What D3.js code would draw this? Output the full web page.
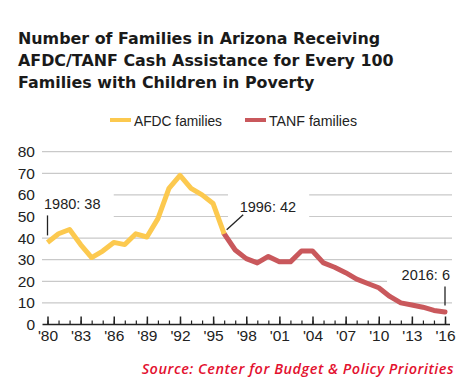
<!DOCTYPE html>
<html>
<head>
<meta charset="utf-8">
<script src="https://cdn.jsdelivr.net/npm/d3@7"></script>
<style>
  body { margin: 0; background: #fff; }
  svg { display: block; }
</style>
</head>
<body>
<svg id="chart"></svg>
<script>
const titleLines = [
    "Number of Families in Arizona Receiving",
    "AFDC/TANF Cash Assistance for Every 100",
    "Families with Children in Poverty"
];
const sourceText = "Source: Center for Budget & Policy Priorities";

const afdcYears = [1980, 1981, 1982, 1983, 1984, 1985, 1986, 1987, 1988, 1989, 1990, 1991, 1992, 1993, 1994, 1995, 1996];
const afdcValues = [38, 42, 44, 37, 31, 34, 38, 37, 42, 40.5, 49, 63, 69, 63, 60, 56, 42];

const tanfYears = [1996, 1997, 1998, 1999, 2000, 2001, 2002, 2003, 2004, 2005, 2006, 2007, 2008, 2009, 2010, 2011, 2012, 2013, 2014, 2015, 2016];
const tanfValues = [42, 34.5, 30.5, 28.5, 31.5, 29, 29, 34, 34, 28.5, 26.5, 24, 21, 19, 17, 13, 10, 9, 8, 6.5, 5.8];

const yTicks = [0, 10, 20, 30, 40, 50, 60, 70, 80];
const majorYears = [1980, 1983, 1986, 1989, 1992, 1995, 1998, 2001, 2004, 2007, 2010, 2013, 2016];
const tickLabels = ["'80", "'83", "'86", "'89", "'92", "'95", "'98", "'01", "'04", "'07", "'10", "'13", "'16"];

const series = [
    { name: "AFDC families", color: "#fcc94f" },
    { name: "TANF families", color: "#c9585c" }
];

// annotations: year, value, label
const notes = [
    { year: 1980, value: 38, label: "1980: 38" },
    { year: 1996, value: 42, label: "1996: 42" },
    { year: 2016, value: 6, label: "2016: 6" }
];

// pieces of gridlines hidden behind the annotation labels (in years)
const gridGaps = [
    { value: 60, from: 1979.5, to: 1986 },
    { value: 50, from: 1979.5, to: 1986 },
    { value: 60, from: 1996.35, to: 2003.7 },
    { value: 50, from: 1996.35, to: 2003.7 },
    { value: 20, from: 2010.75, to: 2016.7 }
];

const width = 470, height = 389;
const svg = d3.select("#chart").attr("width", width).attr("height", height);

const x = d3.scaleLinear().domain([1980, 2016]).range([47.5, 445]);
const y = d3.scaleLinear().domain([0, 80]).range([324.5, 151.7]);
const gridX0 = 42, gridX1 = 452;

// title
svg.append("g")
    .selectAll("text")
    .data(titleLines)
    .join("text")
    .attr("x", 18)
    .attr("y", (d, i) => 44 + i * 22)
    .attr("font-family", "DejaVu Sans, sans-serif")
    .attr("font-weight", "bold")
    .attr("font-size", 15.9)
    .attr("fill", "#1a1a1a")
    .text(d => d);

// legend
const legend = svg.append("g")
    .selectAll("g")
    .data(series)
    .join("g")
    .attr("transform", (d, i) => `translate(${i === 0 ? 110 : 245},120)`);
legend.append("rect")
    .attr("x", 0).attr("y", -2)
    .attr("width", 21).attr("height", 4)
    .attr("fill", d => d.color);
legend.append("text")
    .attr("x", 24).attr("y", 5.5)
    .attr("font-family", "Liberation Sans, Arial, sans-serif")
    .attr("font-size", 15.5)
    .attr("textLength", 88)
    .attr("lengthAdjust", "spacingAndGlyphs")
    .attr("fill", "#222")
    .text(d => d.name);

// gridlines with gaps
const grid = svg.append("g");
yTicks.filter(v => v > 0).forEach(v => {
    const gaps = gridGaps.filter(g => g.value === v).sort((a, b) => a.from - b.from);
    let start = gridX0;
    const segs = [];
    gaps.forEach(g => {
        const a = Math.max(gridX0, x(g.from)), b = Math.min(gridX1, x(g.to));
        if (a > start) segs.push([start, a]);
        start = b;
    });
    if (start < gridX1) segs.push([start, gridX1]);
    segs.forEach(s => {
        grid.append("line")
            .attr("x1", s[0]).attr("x2", s[1])
            .attr("y1", y(v)).attr("y2", y(v))
            .attr("stroke", "#c9c9c9")
            .attr("stroke-width", 1.2);
    });
});

// y axis labels
const yAxis = svg.append("g")
    .attr("transform", "translate(40,0)")
    .call(d3.axisLeft(y).tickValues(yTicks).tickSize(0).tickPadding(5));
yAxis.select(".domain").remove();
yAxis.selectAll("text")
    .attr("font-family", "Liberation Sans, Arial, sans-serif")
    .attr("font-size", 15.5)
    .attr("fill", "#222");

// x axis: minor + major ticks
const axisY = y(0);
svg.append("line")
    .attr("x1", 42.5).attr("x2", 450)
    .attr("y1", axisY).attr("y2", axisY)
    .attr("stroke", "#222").attr("stroke-width", 1.5);

const minorAxis = svg.append("g")
    .attr("transform", `translate(0,${axisY})`)
    .call(d3.axisBottom(x).tickValues(d3.range(1980, 2017)).tickSize(-4).tickSizeOuter(0).tickFormat(""));
minorAxis.select(".domain").remove();
minorAxis.selectAll("line").attr("stroke", "#222").attr("stroke-width", 1.2);

const majorAxis = svg.append("g")
    .attr("transform", `translate(0,${axisY})`)
    .call(d3.axisBottom(x).tickValues(majorYears).tickSize(-8).tickSizeOuter(0).tickPadding(5)
        .tickFormat((d, i) => tickLabels[i]));
majorAxis.select(".domain").remove();
majorAxis.selectAll("line").attr("stroke", "#222").attr("stroke-width", 1.5);
majorAxis.selectAll("text")
    .attr("font-family", "Liberation Sans, Arial, sans-serif")
    .attr("font-size", 15.5)
    .attr("fill", "#222");

// lines
const line = d3.line()
    .x(d => x(d[0]))
    .y(d => y(d[1]));

svg.append("path")
    .datum(tanfYears.map((yr, i) => [yr, tanfValues[i]]))
    .attr("d", line)
    .attr("fill", "none")
    .attr("stroke", series[1].color)
    .attr("stroke-width", 5)
    .attr("stroke-linejoin", "round")
    .attr("stroke-linecap", "round");

svg.append("path")
    .datum(afdcYears.map((yr, i) => [yr, afdcValues[i]]))
    .attr("d", line)
    .attr("fill", "none")
    .attr("stroke", series[0].color)
    .attr("stroke-width", 5)
    .attr("stroke-linejoin", "round")
    .attr("stroke-linecap", "butt");

// annotations
const noteG = svg.append("g")
    .attr("font-family", "Liberation Sans, Arial, sans-serif")
    .attr("font-size", 14.5)
    .attr("fill", "#222");

// 1980
const n0 = notes[0];
noteG.append("line")
    .attr("x1", x(n0.year)).attr("x2", x(n0.year))
    .attr("y1", y(n0.value) - 7).attr("y2", y(n0.value) - 27)
    .attr("stroke", "#222").attr("stroke-width", 1.3);
noteG.append("text")
    .attr("x", x(n0.year) - 3.5).attr("y", y(n0.value) - 33)
    .text(n0.label);

// 1996
const n1 = notes[1];
noteG.append("line")
    .attr("x1", x(n1.year) + 2.5).attr("x2", x(n1.year) + 19)
    .attr("y1", y(n1.value) - 4).attr("y2", y(n1.value) - 19)
    .attr("stroke", "#222").attr("stroke-width", 1.3);
noteG.append("text")
    .attr("x", x(n1.year) + 15.5).attr("y", y(n1.value) - 22)
    .text(n1.label);

// 2016
const n2 = notes[2];
noteG.append("line")
    .attr("x1", x(n2.year)).attr("x2", x(n2.year))
    .attr("y1", y(n2.value) - 6).attr("y2", y(n2.value) - 25)
    .attr("stroke", "#222").attr("stroke-width", 1.3);
noteG.append("text")
    .attr("x", x(n2.year) + 5).attr("y", y(n2.value) - 31.5)
    .attr("text-anchor", "end")
    .text(n2.label);

// source
svg.append("text")
    .attr("x", 454).attr("y", 374)
    .attr("text-anchor", "end")
    .attr("font-family", "Open Sans, sans-serif")
    .attr("font-style", "italic")
    .attr("font-weight", 600)
    .attr("font-size", 14.5)
    .attr("letter-spacing", 0.5)
    .attr("fill", "#e3112f")
    .text(sourceText);
</script>
</body>
</html>
